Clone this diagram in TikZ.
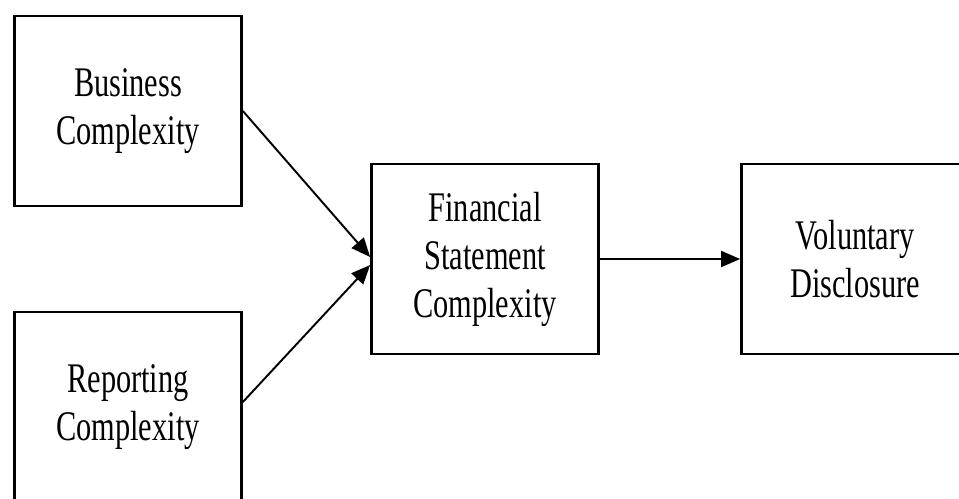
\documentclass[tikz,border=0pt]{standalone}
\usepackage{fontspec}
\setmainfont[FakeStretch=0.72]{Liberation Serif}
\usetikzlibrary{arrows.meta}

\begin{document}
\begin{tikzpicture}[x=0.02cm, y=-0.02cm,
  box/.style={draw, line width=1.6pt, align=center, inner sep=0pt,
    minimum width=4.54cm, minimum height=3.8cm,
    font=\fontsize{24}{27.3}\selectfont},
  link/.style={line width=1.1pt, -{Triangle[length=0.38cm, width=0.32cm]}}]
\clip (0,0) rectangle (959,498);
\node[box] (bus) at (128,111){Business\\Complexity};
\node[box] (rep) at (128,407){Reporting\\Complexity};
\node[box] (fs) at (485,259){Financial\\Statement\\Complexity};
\node[box] (vd) at (855,259){Voluntary\\Disclosure};
\draw[link](bus.east) -- ([yshift=0.04cm]fs.west);
\draw[link]([yshift=0.1cm]rep.east) -- ([yshift=-0.12cm]fs.west);
\draw[link](fs.east) -- (vd.west);
\end{tikzpicture}
\end{document}
